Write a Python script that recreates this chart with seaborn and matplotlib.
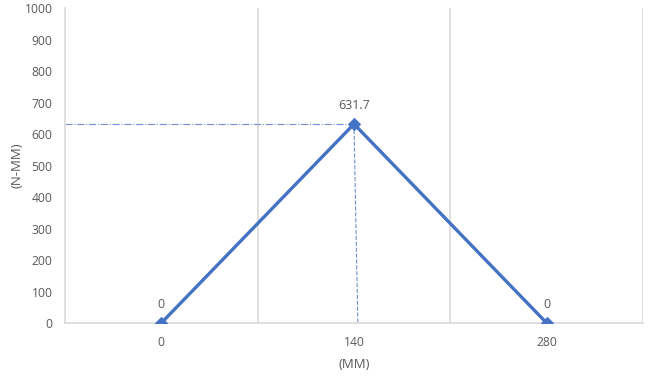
import pandas as pd
import matplotlib.pyplot as plt
import seaborn as sns

# Bending moment data
positions = ['0', '140', '280']
moments = [0, 631.7, 0]
peak_idx = 1

df = pd.DataFrame({'pos': positions, 'moment': moments})

sns.set_style('white')
plt.rcParams['font.family'] = ['Open Sans', 'DejaVu Sans']

fig = plt.figure(figsize=(6.51, 3.78), dpi=100)
ax = fig.add_axes([0.0998, 0.1455, 0.8879, 0.8333])

grey = '#D9D9D9'
txt = '#595959'
blue = '#4472C4'

# vertical gridlines at the category boundaries
for b in [0.5, 1.5, 2.5]:
    ax.axvline(b, color=grey, lw=1.2, zorder=0)

sns.lineplot(data=df, x='pos', y='moment', ax=ax, color=blue, lw=2.4,
             marker='D', markersize=6, markeredgecolor=blue, sort=False, zorder=3)

# guide lines to the peak value
peak = moments[peak_idx]
ax.plot([-0.5, peak_idx], [peak, peak], ls='-.', lw=0.8, color='#6F8FD0', zorder=2)
ax.plot([peak_idx, peak_idx + 0.02], [peak, 0], ls='--', lw=0.8, color='#6F8FD0', zorder=2)

# data labels
for i, v in enumerate(moments):
    ax.annotate(f'{v:g}', (i, v), xytext=(0, 9), textcoords='offset points',
                ha='center', va='bottom', fontsize=9, color=txt)

ax.set_xlim(-0.5, 2.5)
ax.set_ylim(0, 1000)
ax.set_yticks(range(0, 1001, 100))
ax.tick_params(axis='both', length=0, labelsize=8.7, labelcolor=txt, pad=9)
ax.set_xlabel('(MM)', fontsize=9.5, color=txt, labelpad=7)
ax.set_ylabel('(N-MM)', fontsize=9.5, color=txt)
ax.yaxis.set_label_coords(-0.072, 0.5)

for side in ['top', 'right']:
    ax.spines[side].set_visible(False)
for side in ['left', 'bottom']:
    ax.spines[side].set_color(grey)
    ax.spines[side].set_linewidth(1.2)

fig.savefig('out.png', dpi=100)
